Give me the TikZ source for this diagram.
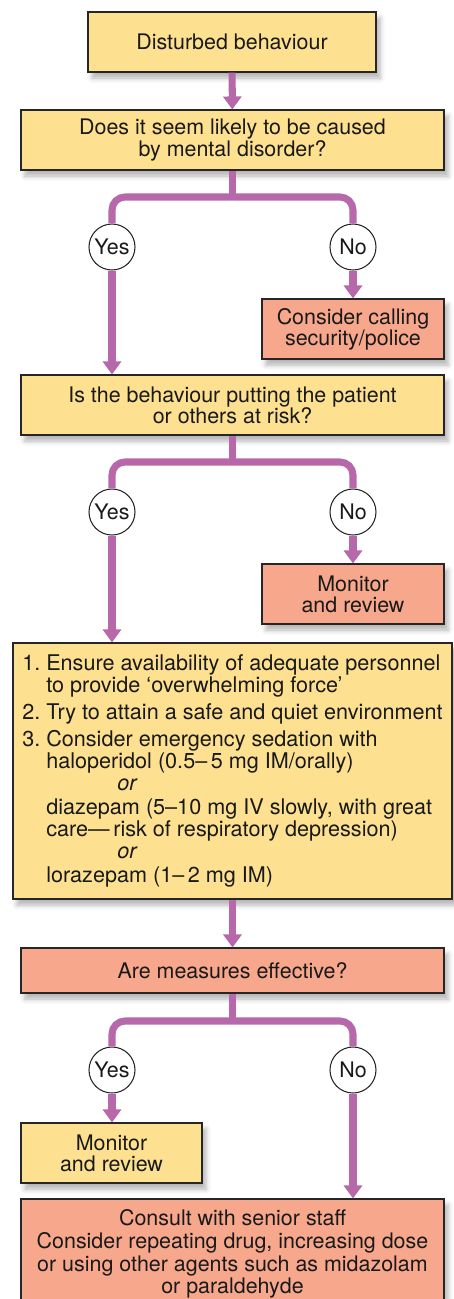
\documentclass[tikz,border=0pt]{standalone}
\usepackage{fontspec}
\setmainfont{TeX Gyre Heros}
\usetikzlibrary{arrows.meta,shadows.blur}
\definecolor{FlowYellow}{RGB}{253,225,145}
\definecolor{FlowSalmon}{RGB}{247,168,140}
\definecolor{FlowPurple}{RGB}{183,104,170}

\begin{document}
\begin{tikzpicture}[font=\fontsize{12.2pt}{12pt}\selectfont, every node/.style={align=center},
    card/.style={draw=black!85,line width=0.6pt,inner sep=0pt,text=black!90,
      blur shadow={shadow xshift=0.08cm,shadow yshift=-0.12cm,shadow blur radius=0.1cm,shadow opacity=30}},
    ans/.style={circle,draw=black!85,line width=0.6pt,fill=white,minimum size=0.92cm,inner sep=0pt,text=black!90},
    flow/.style={FlowPurple,line width=4pt},
    go/.style={flow,-{Triangle[width=0.36cm,length=0.26cm]}}]
        \useasboundingbox (0,0) rectangle (9.06,-25.98);

        \node[card,minimum width=5.76cm,minimum height=1.2cm,fill=FlowYellow]
          (start) at (4.64,-0.84) {Disturbed behaviour};
        \node[card,minimum width=8.46cm,minimum height=1.2cm,fill=FlowYellow]
          (cause) at (4.65,-2.80) {Does it seem likely to be caused\\by mental disorder?};
        \coordinate (split1) at (4.65,-3.94);
        \node[ans] (yes1) at (2.24,-4.94) {Yes};
        \node[ans] (no1) at (7.06,-4.94) {No};
        \node[card,minimum width=3.64cm,minimum height=1.2cm,fill=FlowSalmon]
          (police) at (7.06,-6.58) {Consider calling\\security/police};

        \node[card,minimum width=8.46cm,minimum height=1.2cm,fill=FlowYellow]
          (risk) at (4.65,-8.10) {Is the behaviour putting the patient\\or others at risk?};
        \coordinate (split2) at (4.65,-9.24);
        \node[ans] (yes2) at (2.24,-10.24) {Yes};
        \node[ans] (no2) at (7.06,-10.24) {No};
        \node[card,minimum width=3.64cm,minimum height=1.2cm,fill=FlowSalmon]
          (review1) at (7.06,-11.88) {Monitor\\and review};

        \node[card,minimum width=8.78cm,minimum height=5.12cm,fill=FlowYellow,align=left,
          font=\fontsize{12.3pt}{12.5pt}\selectfont]
          (manage) at (4.65,-15.42) {\makebox[0.48cm][l]{1.}Ensure availability of adequate personnel\\
          \hspace*{0.48cm}to provide ‘overwhelming force’\\[0.1cm]
          \makebox[0.48cm][l]{2.}Try to attain a safe and quiet environment\\[0.1cm]
          \makebox[0.48cm][l]{3.}Consider emergency sedation with\\
          \hspace*{0.48cm}haloperidol (0.5–\,5 mg IM/orally)\\
          \hspace*{1.9cm}\textit{or}\\[0.05cm]
          \hspace*{0.48cm}diazepam (5–10 mg IV slowly, with great\\
          \hspace*{0.48cm}care—\,risk of respiratory depression)\\
          \hspace*{1.9cm}\textit{or}\\[0.05cm]
          \hspace*{0.48cm}lorazepam (1–\,2 mg IM)};

        \node[card,minimum width=8.46cm,minimum height=0.9cm,fill=FlowSalmon]
          (effect) at (4.65,-19.41) {Are measures effective?};
        \coordinate (split3) at (4.65,-20.42);
        \node[ans] (yes3) at (2.24,-21.40) {Yes};
        \node[ans] (no3) at (7.06,-21.40) {No};
        \node[card,minimum width=3.62cm,minimum height=1.2cm,fill=FlowYellow]
          (review2) at (2.23,-23.06) {Monitor\\and review};
        \node[card,minimum width=8.46cm,minimum height=2.2cm,fill=FlowSalmon]
          (senior) at (4.65,-25.08) {Consult with senior staff\\[1pt]
          Consider repeating drug, increasing dose\\[1pt]
          or using other agents such as midazolam\\[1pt]
          or paraldehyde};

        % connectors
        \draw[go] (start) -- (cause);
        \draw[flow] (cause) -- (split1);
        \draw[flow,rounded corners=0.26cm] (yes1) |- (split1) -| (no1);
        \draw[go] (no1) -- (police);
        \draw[go] (yes1) -- (risk.north -| yes1);

        \draw[flow] (risk) -- (split2);
        \draw[flow,rounded corners=0.26cm] (yes2) |- (split2) -| (no2);
        \draw[go] (no2) -- (review1);
        \draw[go] (yes2) -- (manage.north -| yes2);

        \draw[go] (manage) -- (effect);
        \draw[flow] (effect) -- (split3);
        \draw[flow,rounded corners=0.26cm] (yes3) |- (split3) -| (no3);
        \draw[go] (yes3) -- (review2.north -| yes3);
        \draw[go] (no3) -- (senior.north -| no3);
      \end{tikzpicture}
\end{document}
